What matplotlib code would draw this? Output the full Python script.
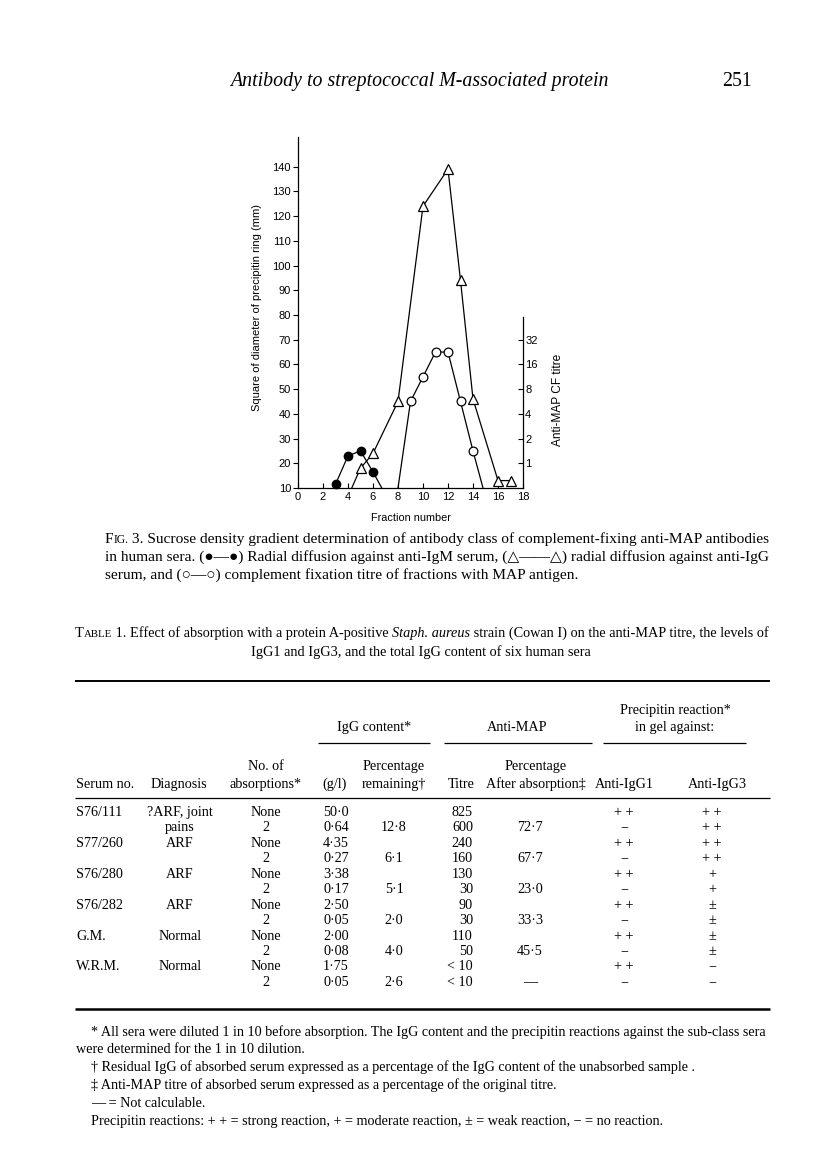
import matplotlib
matplotlib.use("Agg")
import matplotlib.pyplot as plt

W, H = 816, 1173

# ---- Fig. 3 data ----
igm_fraction = [3, 4, 5, 6]
igm_ring = [11.5, 23, 25, 16.5]
igm_tail = ([6, 6.7], [16.5, 10])

igg_fraction = [5, 6, 8, 10, 12, 13, 14, 16, 17]
igg_ring = [18, 24, 45, 124, 139, 94, 46, 13, 13]
igg_head = ([4.3, 5], [10, 18])

cf_fraction = [9, 10, 11, 12, 13, 14]
cf_level = [45, 55, 65, 65, 45, 25]      # plotted against the left scale
cf_head = ([8, 9], [10, 45])
cf_tail = ([14, 14.8], [25, 10])

left_ticks = [10, 20, 30, 40, 50, 60, 70, 80, 90, 100, 110, 120, 130, 140]
x_ticks = [0, 2, 4, 6, 8, 10, 12, 14, 16, 18]
titre_ticks = [1, 2, 4, 8, 16, 32]

# ---- Table 1 data ----
serum_no = ["S76/111", "", "S77/260", "", "S76/280", "", "S76/282", "", "G.M.", "", "W.R.M.", ""]
diagnosis = ["?ARF, joint", "pains", "ARF", "", "ARF", "", "ARF", "", "Normal", "", "Normal", ""]
absorptions = ["None", "2"] * 6
igg_gl = ["50·0", "0·64", "4·35", "0·27", "3·38", "0·17", "2·50", "0·05", "2·00", "0·08", "1·75", "0·05"]
pct_remaining = ["", "12·8", "", "6·1", "", "5·1", "", "2·0", "", "4·0", "", "2·6"]
titre = ["825", "600", "240", "160", "130", "30", "90", "30", "110", "50", "< 10", "< 10"]
pct_after = ["", "72·7", "", "67·7", "", "23·0", "", "33·3", "", "45·5", "", "—"]
anti_igg1 = ["+ +", "−", "+ +", "−", "+ +", "−", "+ +", "−", "+ +", "−", "+ +", "−"]
anti_igg3 = ["+ +", "+ +", "+ +", "+ +", "+", "+", "±", "±", "±", "±", "−", "−"]

SERIF = ["Liberation Serif", "DejaVu Serif"]
SANS = ["Liberation Sans", "DejaVu Sans"]

fig = plt.figure(figsize=(W / 100, H / 100), dpi=100)
fig.patch.set_facecolor("white")

page = fig.add_axes([0, 0, 1, 1])
page.set_xlim(0, W)
page.set_ylim(H, 0)
page.axis("off")

renderer = fig.canvas.get_renderer()


def rich(x, y, parts, ha="left", size=10):
    """Draw text segments on one baseline; parts = [(text, kwargs), ...]."""
    arts = []
    cur = x
    for s, kw in parts:
        props = dict(fontsize=size, family=SERIF)
        props.update(kw)
        t = page.text(cur, y, s, va="baseline", ha="left", **props)
        cur += t.get_window_extent(renderer).width
        arts.append(t)
    if ha == "center":
        shift = (cur - x) / 2
        for t in arts:
            t.set_x(t.get_position()[0] - shift)
    return arts


def txt(x, y, s, ha="left", size=10, **kw):
    return page.text(x, y, s, ha=ha, va="baseline", fontsize=size, family=SERIF, **kw)


def hline(x0, x1, y, lw):
    page.plot([x0, x1], [y, y], color="black", lw=lw, solid_capstyle="butt")


# ---- running head ----
txt(419, 86, "Antibody to streptococcal M-associated protein", ha="center", size=14.3, style="italic")
txt(752, 86, "251", ha="right", size=14.3)

# ---- chart ----
x0, x1 = 298, 523
yb, yt = 488, 137
ax = fig.add_axes([x0 / W, 1 - yb / H, (x1 - x0) / W, (yb - yt) / H])
ax.set_xlim(0, 18)
ax.set_ylim(10, 152)
ax.patch.set_alpha(0)

line_kw = dict(color="black", lw=0.9)
ax.plot(*igm_tail, **line_kw)
ax.plot(igm_fraction, igm_ring, marker="o", ms=6, mfc="black", mec="black", clip_on=False, **line_kw)
ax.plot(*igg_head, **line_kw)
ax.plot(igg_fraction, igg_ring, marker="^", ms=6.5, mfc="white", mec="black", mew=0.9, clip_on=False, **line_kw)
ax.plot(*cf_head, **line_kw)
ax.plot(*cf_tail, **line_kw)
ax.plot(cf_fraction, cf_level, marker="o", ms=6.3, mfc="white", mec="black", mew=0.9, clip_on=False, **line_kw)

for side in ("top", "right"):
    ax.spines[side].set_visible(False)
for side in ("left", "bottom"):
    ax.spines[side].set_linewidth(0.9)
ax.set_yticks(left_ticks)
ax.set_xticks(x_ticks)
ax.tick_params(axis="y", direction="out", length=3.5, width=0.8, pad=1.5, labelsize=8)
ax.tick_params(axis="x", direction="in", length=3.5, width=0.8, pad=3, labelsize=8)
for lab in ax.get_xticklabels() + ax.get_yticklabels():
    lab.set_family(SANS)
ax.set_ylabel("Square of diameter of precipitin ring (mm)", fontsize=8, family=SANS)
ax.yaxis.set_label_coords(-0.16, 0.513)
ax.set_xlabel("Fraction number", fontsize=7.8, family=SANS, labelpad=8)

tw = ax.twinx()
tw.set_yscale("log", base=2)
tw.set_ylim(2 ** -1, 2 ** 13.2)
tw.set_yticks(titre_ticks)
tw.set_yticklabels([str(v) for v in titre_ticks])
tw.minorticks_off()
for side in ("top", "left", "bottom"):
    tw.spines[side].set_visible(False)
tw.spines["right"].set_linewidth(0.9)
tw.spines["right"].set_bounds(2 ** -1, 2 ** 5.9)
tw.tick_params(axis="y", direction="in", length=3.5, width=0.8, pad=1.5, labelsize=8)
for lab in tw.get_yticklabels():
    lab.set_family(SANS)
tw.set_ylabel("Anti-MAP CF titre", fontsize=8.6, family=SANS)
tw.yaxis.set_label_coords(1.13, 0.25)

# ---- figure caption ----
cs = 11.1
cap_x = 105
rich(cap_x, 543, [("F", {}), ("IG.", dict(fontsize=cs * 0.75)),
                  (" 3. Sucrose density gradient determination of antibody class of complement-fixing anti-MAP antibodies", {})],
     size=cs)
txt(cap_x, 561, "in human sera. (●—●) Radial diffusion against anti-IgM serum, (△——△) radial diffusion against anti-IgG",
    size=cs)
txt(cap_x, 579, "serum, and (○—○) complement fixation titre of fractions with MAP antigen.", size=cs)

# ---- table caption ----
tc = 10.3
rich(75, 637, [("T", {}), ("ABLE", dict(fontsize=tc * 0.75)),
               (" 1. Effect of absorption with a protein A-positive ", {}),
               ("Staph. aureus", dict(style="italic")),
               (" strain (Cowan I) on the anti-MAP titre, the levels of", {})], size=tc)
txt(421, 656, "IgG1 and IgG3, and the total IgG content of six human sera", ha="center", size=tc)

# ---- table ----
L, R = 75, 770
hline(L, R, 681, 1.4)

ts = 10.2
txt(675, 714, "Precipitin reaction*", ha="center", size=ts)
txt(374, 731, "IgG content*", ha="center", size=ts)
txt(517, 731, "Anti-MAP", ha="center", size=ts)
txt(675, 731, "in gel against:", ha="center", size=ts)
hline(318, 430, 743, 0.9)
hline(444, 592, 743, 0.9)
hline(603, 746, 743, 0.9)

txt(266, 770, "No. of", ha="center", size=ts)
txt(394, 770, "Percentage", ha="center", size=ts)
txt(536, 770, "Percentage", ha="center", size=ts)
hy = 788
txt(76, hy, "Serum no.", size=ts)
txt(179, hy, "Diagnosis", ha="center", size=ts)
txt(266, hy, "absorptions*", ha="center", size=ts)
txt(335, hy, "(g/l)", ha="center", size=ts)
txt(394, hy, "remaining†", ha="center", size=ts)
txt(461, hy, "Titre", ha="center", size=ts)
txt(536, hy, "After absorption‡", ha="center", size=ts)
txt(624, hy, "Anti-IgG1", ha="center", size=ts)
txt(717, hy, "Anti-IgG3", ha="center", size=ts)
hline(L, R, 798, 0.9)

row0, dy = 816, 15.45
for i in range(len(absorptions)):
    y = row0 + i * dy
    txt(76, y, serum_no[i], size=ts)
    txt(180, y, diagnosis[i], ha="center", size=ts)
    txt(266, y, absorptions[i], ha="center", size=ts)
    txt(323, y, igg_gl[i], size=ts)
    txt(394, y, pct_remaining[i], ha="center", size=ts)
    txt(473, y, titre[i], ha="right", size=ts)
    txt(530, y, pct_after[i], ha="center", size=ts)
    txt(624, y, anti_igg1[i], ha="center", size=ts)
    txt(712, y, anti_igg3[i], ha="center", size=ts)

hline(L, R, 1009, 1.8)

# ---- footnotes ----
fs = 10.2
fx = 91
txt(fx, 1036, "* All sera were diluted 1 in 10 before absorption. The IgG content and the precipitin reactions against the sub-class sera",
    size=fs)
txt(76, 1053, "were determined for the 1 in 10 dilution.", size=fs)
txt(fx, 1071, "† Residual IgG of absorbed serum expressed as a percentage of the IgG content of the unabsorbed sample .", size=fs)
txt(fx, 1089, "‡ Anti-MAP titre of absorbed serum expressed as a percentage of the original titre.", size=fs)
txt(fx, 1107, "— = Not calculable.", size=fs)
txt(fx, 1125, "Precipitin reactions: + + = strong reaction, + = moderate reaction, ± = weak reaction, − = no reaction.", size=fs)

fig.savefig("out.png", dpi=100, facecolor="white")
